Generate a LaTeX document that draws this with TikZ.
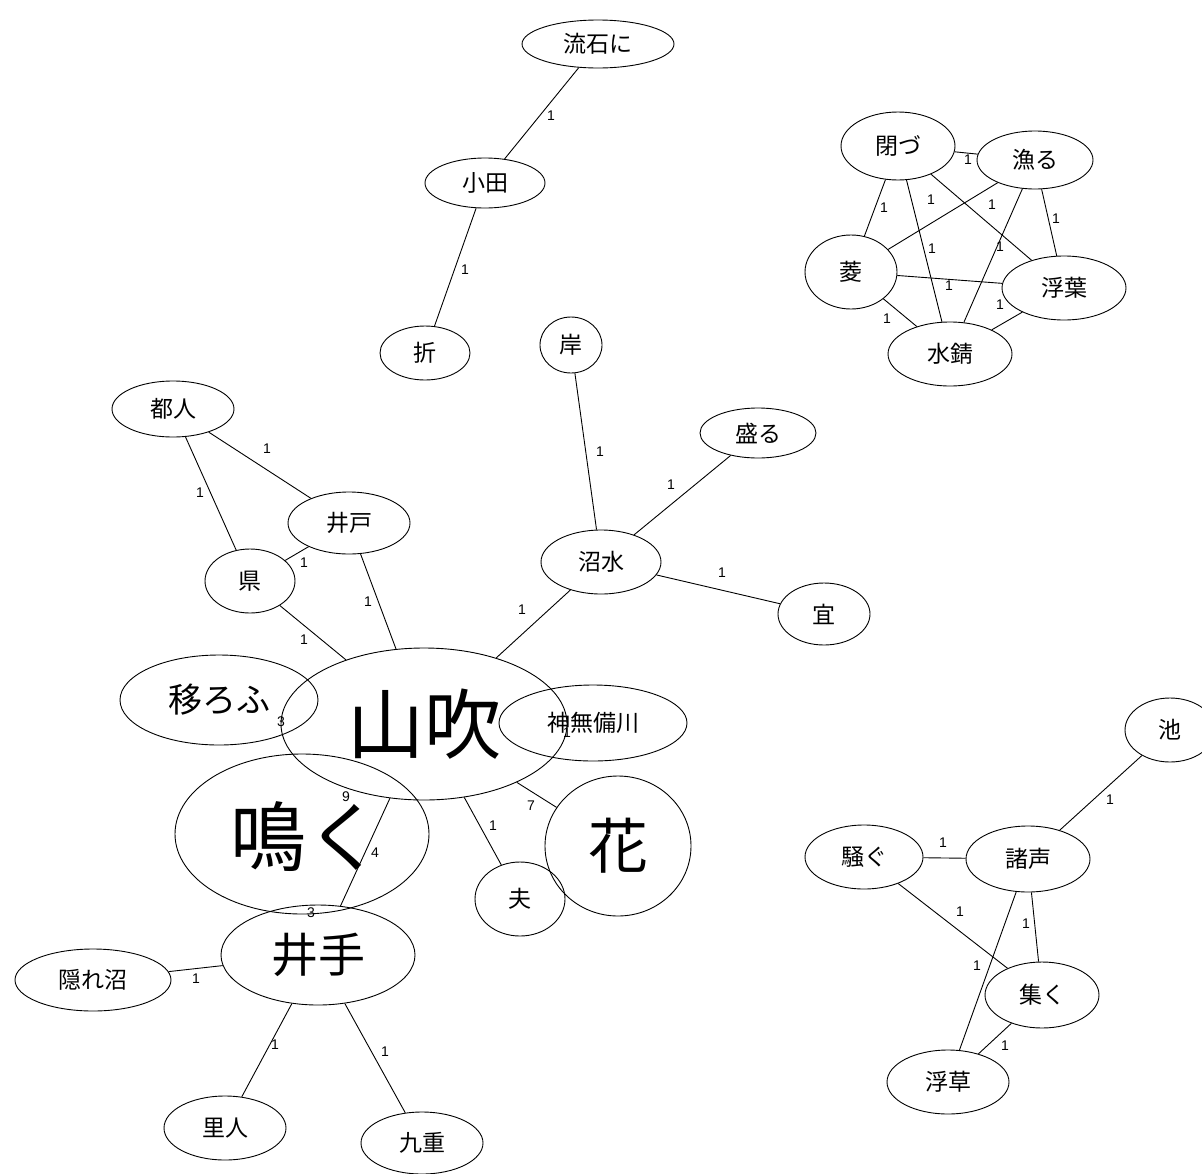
\documentclass[tikz,border=0pt]{standalone}
\usepackage{fontspec}
\setmainfont{Liberation Sans}
\newfontfamily\jp{Noto Sans CJK JP}
\usetikzlibrary{shapes.geometric}

\tikzset{
  word/.style={ellipse, draw, line width=0.9pt, inner sep=0pt,
    font=\jp\fontsize{23}{23}\selectfont},
  fs/.style={font=\jp\fontsize{#1}{#1}\selectfont},
  edge/.style={line width=0.9pt},
  wt/.style={font=\fontsize{14}{14}\selectfont, inner sep=0pt},
}

% visible connector with its weight
\newcommand\link[5]{\draw[edge] (#1) -- (#2); \node[wt] (w-#1-#2) at (#3,#4) {#5};}
% connector between overlapping words: only the weight shows
\newcommand\hidlink[5]{\path (#1) -- (#2); \node[wt] (w-#1-#2) at (#3,#4) {#5};}

\begin{document}
\begin{tikzpicture}[x=1pt, y=-1pt]
\useasboundingbox (0,0) rectangle (1202,1173);

% words
\node[word, minimum width=152pt, minimum height=48pt] (sasuga) at (598,44) {流石に};
\node[word, minimum width=120pt, minimum height=50pt] (oda) at (485,183) {小田};
\node[word, minimum width=90pt, minimum height=54pt] (ori) at (425,353) {折};
\node[word, minimum width=62pt, minimum height=56pt] (kishi) at (571,345) {岸};
\node[word, minimum width=116pt, minimum height=50pt] (sakaru) at (758,433) {盛る};
\node[word, minimum width=122pt, minimum height=56pt] (miyako) at (173,409) {都人};
\node[word, minimum width=122pt, minimum height=62pt] (ido) at (349,523) {井戸};
\node[word, minimum width=90pt, minimum height=64pt] (agata) at (250,581) {県};
\node[word, minimum width=120pt, minimum height=64pt] (numa) at (601,562) {沼水};
\node[word, minimum width=92pt, minimum height=62pt] (yoroshi) at (824,614) {宜};
\node[word, fs=34, minimum width=198pt, minimum height=90pt] (utsuro) at (219,700) {移ろふ};
\node[word, fs=77, minimum width=286pt, minimum height=152pt] (yamabuki) at (424,724) {山吹};
\node[word, minimum width=188pt, minimum height=76pt] (kannabi) at (593,723) {神無備川};
\node[word, fs=76, minimum width=254pt, minimum height=160pt, text depth=0pt] (naku) at (302,834) {\hspace*{8pt}鳴く};
\node[word, fs=60, minimum width=146pt, minimum height=140pt] (hana) at (618,846) {花};
\node[word, minimum width=90pt, minimum height=74pt] (tsuma) at (520,899) {夫};
\node[word, fs=47, minimum width=194pt, minimum height=100pt] (ide) at (318,955) {井手};
\node[word, minimum width=156pt, minimum height=62pt] (kakure) at (93,980) {隠れ沼};
\node[word, minimum width=122pt, minimum height=64pt] (satobito) at (225,1128) {里人};
\node[word, minimum width=122pt, minimum height=62pt] (kokonoe) at (422,1143) {九重};

\node[word, minimum width=114pt, minimum height=68pt] (tozu) at (898,146) {閉づ};
\node[word, minimum width=116pt, minimum height=58pt] (asaru) at (1035,160) {漁る};
\node[word, minimum width=92pt, minimum height=74pt] (hishi) at (851,272) {菱};
\node[word, minimum width=124pt, minimum height=64pt] (ukiha) at (1064,288) {浮葉};
\node[word, minimum width=124pt, minimum height=64pt] (misabi) at (950,354) {水錆};

\node[word, minimum width=90pt, minimum height=64pt] (ike) at (1170,730) {池};
\node[word, minimum width=118pt, minimum height=64pt] (sawagu) at (864,857) {騒ぐ};
\node[word, minimum width=124pt, minimum height=66pt] (morogoe) at (1028,859) {諸声};
\node[word, minimum width=114pt, minimum height=66pt] (sudaku) at (1042,995) {集く};
\node[word, minimum width=122pt, minimum height=64pt] (ukikusa) at (948,1082) {浮草};

% connectors
\link{sasuga}{oda}{551}{116}{1}
\link{oda}{ori}{465}{270}{1}

\link{kishi}{numa}{600}{452}{1}
\link{sakaru}{numa}{671}{485}{1}
\link{numa}{yoroshi}{722}{573}{1}
\link{numa}{yamabuki}{522}{610}{1}

\link{miyako}{ido}{267}{449}{1}
\link{miyako}{agata}{200}{493}{1}
\link{agata}{ido}{304}{563}{1}
\link{agata}{yamabuki}{304}{640}{1}
\link{ido}{yamabuki}{368}{602}{1}

\hidlink{yamabuki}{utsuro}{281}{722}{3}
\hidlink{yamabuki}{kannabi}{567}{733}{1}
\hidlink{yamabuki}{naku}{346}{797}{9}
\link{yamabuki}{hana}{531}{806}{7}
\link{yamabuki}{tsuma}{493}{826}{1}
\link{yamabuki}{ide}{375}{853}{4}
\hidlink{naku}{ide}{311}{913}{3}

\link{ide}{kakure}{196}{979}{1}
\link{ide}{satobito}{275}{1045}{1}
\link{ide}{kokonoe}{385}{1052}{1}

\link{tozu}{asaru}{968}{160}{1}
\link{tozu}{hishi}{884}{208}{1}
\link{asaru}{hishi}{931}{200}{1}
\link{tozu}{misabi}{932}{249}{1}
\link{tozu}{ukiha}{992}{205}{1}
\link{asaru}{misabi}{1000}{247}{1}
\link{asaru}{ukiha}{1056}{219}{1}
\link{hishi}{ukiha}{949}{286}{1}
\link{hishi}{misabi}{887}{319}{1}
\link{ukiha}{misabi}{1000}{305}{1}

\link{ike}{morogoe}{1110}{800}{1}
\link{sawagu}{morogoe}{943}{843}{1}
\link{sawagu}{sudaku}{960}{912}{1}
\link{morogoe}{sudaku}{1026}{924}{1}
\link{morogoe}{ukikusa}{977}{966}{1}
\link{sudaku}{ukikusa}{1005}{1046}{1}

\end{tikzpicture}
\end{document}
